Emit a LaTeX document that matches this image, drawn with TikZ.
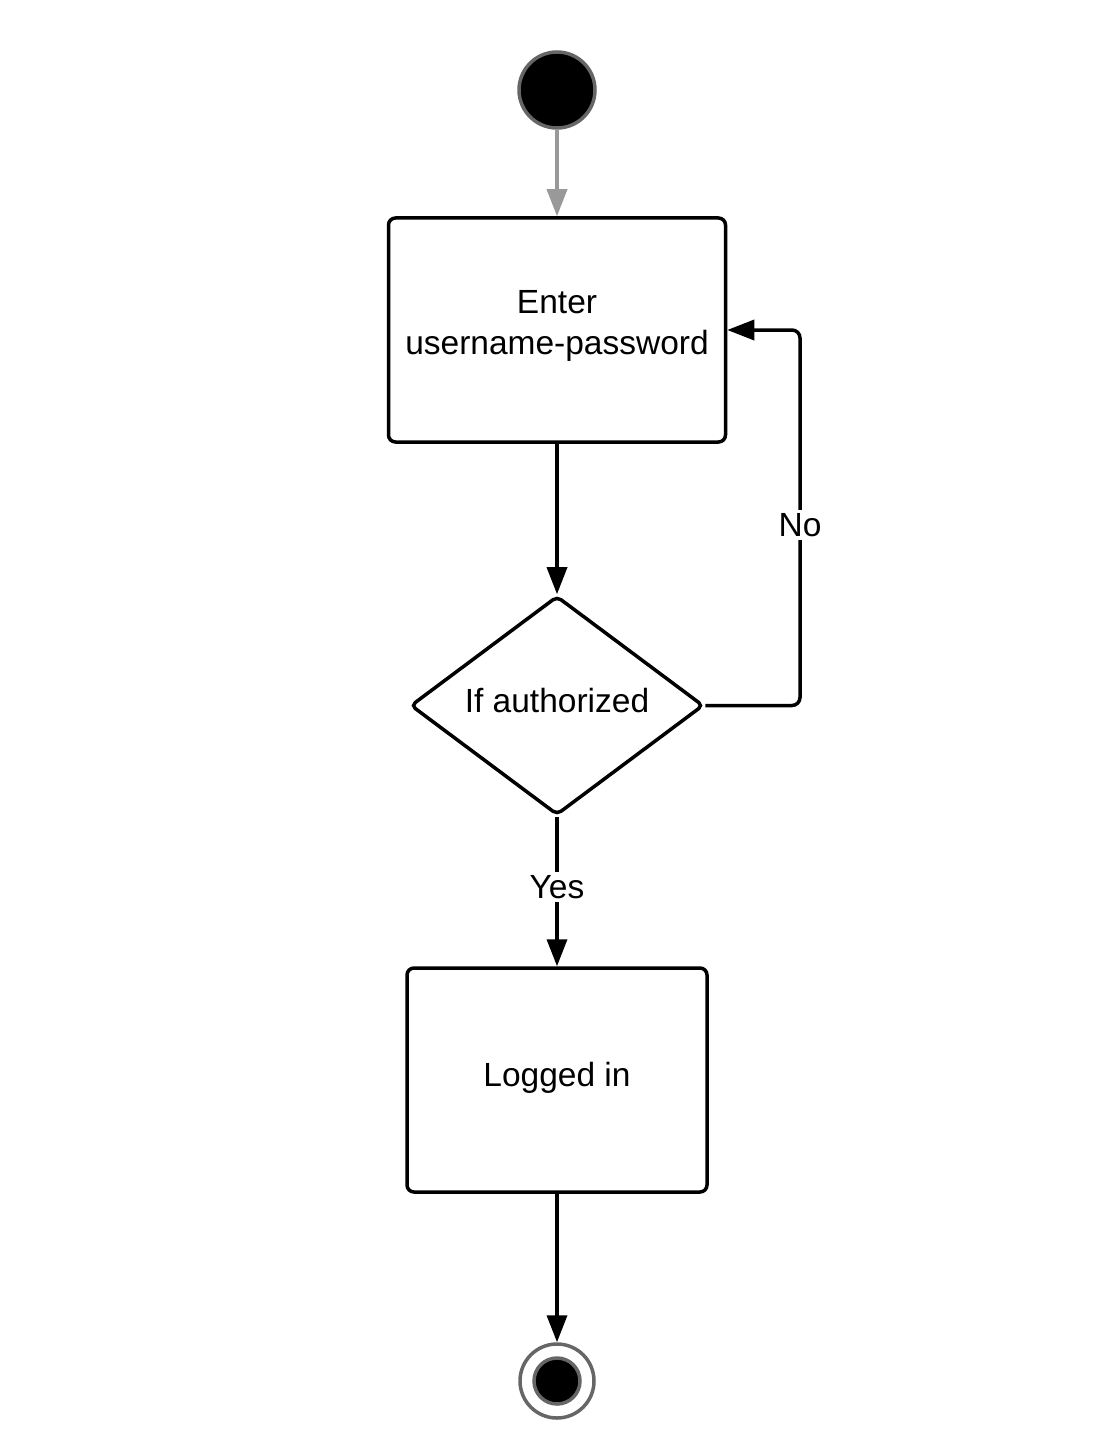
\documentclass[tikz,border=0pt]{standalone}
\usepackage{fontspec}
\setmainfont{Liberation Sans}
\usetikzlibrary{arrows.meta,shapes.geometric}
\definecolor{ringgray}{HTML}{666666}
\definecolor{arrgray}{HTML}{999999}
\begin{document}
\begin{tikzpicture}[x=1pt,y=-1pt,
  every node/.style={font=\fontsize{33.5}{41}\selectfont},
  actbox/.style={draw, line width=3.5pt, rounded corners=7pt, align=center, inner sep=0pt},
  decbox/.style={draw, diamond, line width=3.5pt, rounded corners=5pt, aspect=1.34, inner sep=0pt, minimum width=293pt, minimum height=219pt},
  flow/.style={line width=3.5pt, -{Triangle[length=27pt,width=20pt]}},
  lbl/.style={fill=white, inner sep=3pt}]
\useasboundingbox (0,0) rectangle (1100,1455);
\node[circle, fill=black, draw=ringgray, line width=3.5pt, minimum size=76pt, inner sep=0pt] (start) at (557,90) {};
\node[actbox, minimum width=337pt, minimum height=224pt] (enter) at (557,330) {};
\node[align=center] (entertext) at (557,326) {Enter\\username-password};
\node[decbox] (dec) at (557,705.5) {};
\node (dectext) at (557,701) {If authorized};
\node[actbox, minimum width=300pt, minimum height=224pt] (logged) at (557,1080) {};
\node (loggedtext) at (557,1078) {Logged in};
\node[circle, draw=ringgray, fill=white, line width=3.5pt, minimum size=74pt, inner sep=0pt] (endo) at (557,1381) {};
\node[circle, draw=ringgray, fill=black, line width=3.5pt, minimum size=46pt, inner sep=0pt] (endi) at (557,1381) {};
\coordinate (c1) at (800,705.5);
\coordinate (c2) at (800,330);
\draw[flow, draw=arrgray, -{Triangle[length=27pt,width=20pt,fill=arrgray]}] (start) -- (enter);
\draw[flow] (enter) -- (dec);
\draw[flow, rounded corners=8pt] (dec.east) -- (c1) -- (c2) -- (enter.east |- c2);
\node[lbl] (no) at (800,525) {No};
\draw[flow] (dec.south) -- (logged.north);
\node[lbl] (yes) at (557,887) {Yes};
\draw[flow] (logged) -- (endo);
\end{tikzpicture}
\end{document}
